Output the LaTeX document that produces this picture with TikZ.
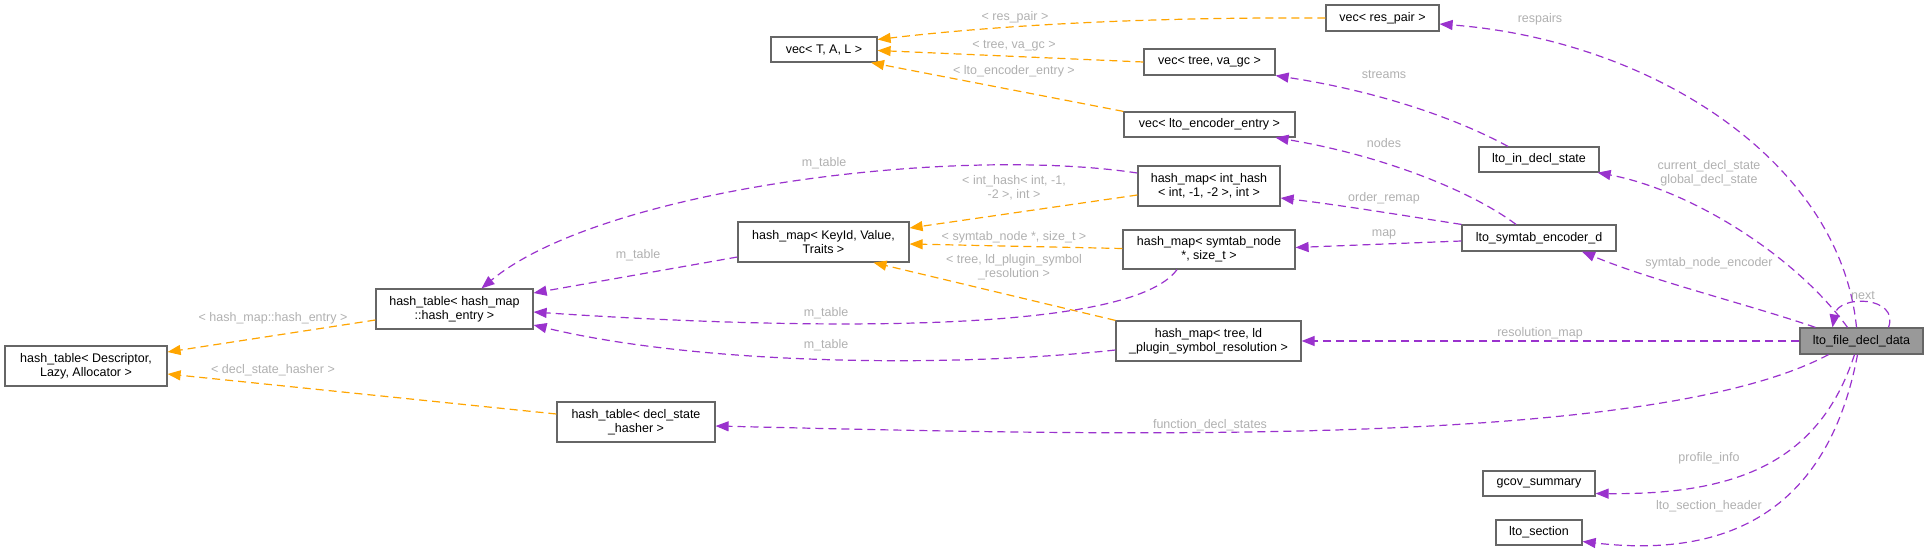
\documentclass[tikz,border=0pt]{standalone}
\usepackage{fontspec}
\setmainfont{Liberation Sans}
\usepackage{tikz}
\usetikzlibrary{arrows.meta}
\definecolor{usecol}{HTML}{9A32CD}
\definecolor{instcol}{HTML}{FFA500}
\definecolor{framecol}{HTML}{666666}
\definecolor{labelcol}{HTML}{B0B0B0}
\tikzset{
    classbox/.style={draw=framecol, line width=1.2pt, fill=white, inner sep=0pt, align=center, font=\fontsize{12.5}{14}\selectfont},
    usage/.style={draw=usecol, line width=1.2pt, dash pattern=on 8pt off 5pt, -{Triangle[length=13pt,width=10pt]}},
    inst/.style={draw=instcol, line width=1.2pt, dash pattern=on 8pt off 5pt, -{Triangle[length=13pt,width=10pt]}},
    edgelabel/.style={text=labelcol, align=center, inner sep=0pt, font=\fontsize{12.5}{14}\selectfont}
}

\begin{document}
\begin{tikzpicture}[x=1pt,y=-1pt]
\useasboundingbox (0,0) rectangle (1928,552);

% classes
\node[classbox, minimum width=106pt, minimum height=25pt] (vecTAL) at (824,49.5) {vec< T, A, L >};
\node[classbox, minimum width=113pt, minimum height=26pt] (vecres) at (1382.5,18) {vec< res\_pair >};
\node[classbox, minimum width=131pt, minimum height=26pt] (vectree) at (1209.5,62) {vec< tree, va\_gc >};
\node[classbox, minimum width=171pt, minimum height=25pt] (vecenc) at (1209.5,124.5) {vec< lto\_encoder\_entry >};
\node[classbox, minimum width=142pt, minimum height=40pt] (hmint) at (1209,186) {hash\_map< int\_hash\\< int, -1, -2 >, int >};
\node[classbox, minimum width=171pt, minimum height=40pt] (hmkey) at (823.5,242) {hash\_map< KeyId, Value,\\Traits >};
\node[classbox, minimum width=172pt, minimum height=39pt] (hmsym) at (1209,249.5) {hash\_map< symtab\_node\\*, size\_t >};
\node[classbox, minimum width=185pt, minimum height=40pt] (hmtree) at (1208.5,341) {hash\_map< tree, ld\\\_plugin\_symbol\_resolution >};
\node[classbox, minimum width=157pt, minimum height=40pt] (htentry) at (454.5,309) {hash\_table< hash\_map\\::hash\_entry >};
\node[classbox, minimum width=162pt, minimum height=40pt] (htdesc) at (86,366) {hash\_table< Descriptor,\\Lazy, Allocator >};
\node[classbox, minimum width=158pt, minimum height=40pt] (htdecl) at (636,422) {hash\_table< decl\_state\\\_hasher >};
\node[classbox, minimum width=120pt, minimum height=25pt] (indecl) at (1539,159.5) {lto\_in\_decl\_state};
\node[classbox, minimum width=154pt, minimum height=26pt] (encoder) at (1539,238) {lto\_symtab\_encoder\_d};
\node[classbox, fill={rgb,255:red,153;green,153;blue,153}, minimum width=123pt, minimum height=26pt] (lfdd) at (1861.5,341) {lto\_file\_decl\_data};
\node[classbox, minimum width=112pt, minimum height=25pt] (gcov) at (1539,483.5) {gcov\_summary};
\node[classbox, minimum width=86pt, minimum height=25pt] (ltosec) at (1539,532.5) {lto\_section};

% members of lto_file_decl_data
\draw[usage] ([xshift=-5pt]lfdd.north) .. controls (1840,160) and (1650,40) .. ([yshift=-6pt]vecres.east);
\node[edgelabel] (lblrespairs) at (1540,19) {respairs};
\draw[usage] ([xshift=-14pt]lfdd.north) .. controls (1795,255) and (1690,190) .. ([xshift=-2pt]indecl.south east);
\node[edgelabel] (lbldeclstate) at (1709,173) {current\_decl\_state\\global\_decl\_state};
\draw[usage] ([xshift=-46pt]lfdd.north) .. controls (1750,305) and (1650,280) .. ([xshift=43pt]encoder.south);
\node[edgelabel] (lblencoder) at (1709,263) {symtab\_node\_encoder};
\draw[usage] (lfdd.west) -- (hmtree.east);
\node[edgelabel] (lblresmap) at (1540,333) {resolution\_map};
\draw[usage] ([xshift=-33pt]lfdd.south) .. controls (1650,450) and (1100,435) .. ([yshift=-4pt]htdecl.east);
\node[edgelabel] (lblfuncdecl) at (1210,425) {function\_decl\_states};
\draw[usage] ([xshift=-7pt]lfdd.south) .. controls (1820,460) and (1740,495) .. ([yshift=-10pt]gcov.east);
\node[edgelabel] (lblprofile) at (1709,458) {profile\_info};
\draw[usage] ([xshift=-4pt]lfdd.south) .. controls (1830,500) and (1740,560) .. ([yshift=-9pt]ltosec.east);
\node[edgelabel] (lblsection) at (1709,506) {lto\_section\_header};
\draw[usage] ([xshift=27pt]lfdd.north) .. controls (1900,296) and (1838,294) .. ([xshift=-29pt]lfdd.north); % self loop
\node[edgelabel] (lblnext) at (1863,296) {next};

% lto_in_decl_state, lto_symtab_encoder_d
\draw[usage] ([xshift=-31pt]indecl.north) .. controls (1450,115) and (1370,90) .. (vectree.south east);
\node[edgelabel] (lblstreams) at (1384,75) {streams};
\draw[usage] ([xshift=-23pt]encoder.north) .. controls (1470,190) and (1380,155) .. ([xshift=66pt]vecenc.south);
\node[edgelabel] (lblnodes) at (1384,143) {nodes};
\draw[usage] (encoder.north west) .. controls (1400,215) and (1340,205) .. ([yshift=-12pt]hmint.east);
\node[edgelabel] (lblremap) at (1384,198) {order\_remap};
\draw[usage] ([yshift=-3pt]encoder.west) -- ([yshift=2pt]hmsym.east);
\node[edgelabel] (lblmap) at (1384,234) {map};

% template instances
\draw[inst] (vecres.west) .. controls (1150,17) and (1000,25) .. ([yshift=10pt]vecTAL.east);
\node[edgelabel] (lblrespair) at (1015,17) {< res\_pair >};
\draw[inst] (vectree.west) -- ([yshift=-1pt]vecTAL.east);
\node[edgelabel] (lbltreegc) at (1014,46) {< tree, va\_gc >};
\draw[inst] (vecenc.north west) -- ([xshift=47pt]vecTAL.south);
\node[edgelabel] (lblencentry) at (1014,71) {< lto\_encoder\_entry >};
\draw[inst] ([yshift=-9pt]hmint.west) -- ([yshift=14pt]hmkey.east);
\node[edgelabel] (lblinthash) at (1014,188) {< int\_hash< int, -1,\\-2 >, int >};
\draw[inst] ([yshift=1pt]hmsym.west) -- ([yshift=-2pt]hmkey.east);
\node[edgelabel] (lblsymsize) at (1014,237) {< symtab\_node *, size\_t >};
\draw[inst] (hmtree.north west) -- ([xshift=50pt]hmkey.south);
\node[edgelabel] (lbltreeld) at (1014,267) {< tree, ld\_plugin\_symbol\\\_resolution >};
\draw[inst] ([yshift=-11pt]htentry.west) -- ([yshift=14pt]htdesc.east);
\node[edgelabel] (lblhashentry) at (273,318) {< hash\_map::hash\_entry >};
\draw[inst] ([yshift=8pt]htdecl.west) -- ([yshift=-8pt]htdesc.east);
\node[edgelabel] (lblhasher) at (273,370) {< decl\_state\_hasher >};

% m_table members
\draw[usage] ([yshift=13pt]hmint.west) .. controls (950,145) and (600,190) .. ([xshift=27pt]htentry.north);
\node[edgelabel] (lblmtableA) at (824,163) {m\_table};
\draw[usage] ([yshift=-15pt]hmkey.west) -- ([yshift=16pt]htentry.east);
\node[edgelabel] (lblmtableB) at (638,255) {m\_table};
\draw[usage] ([xshift=-32pt]hmsym.south) .. controls (1130,335) and (800,330) .. ([yshift=-3pt]htentry.east);
\node[edgelabel] (lblmtableC) at (826,313) {m\_table};
\draw[usage] ([yshift=-9pt]hmtree.west) .. controls (950,368) and (700,365) .. ([yshift=-16pt]htentry.east);
\node[edgelabel] (lblmtableD) at (826,345) {m\_table};

\end{tikzpicture}
\end{document}
